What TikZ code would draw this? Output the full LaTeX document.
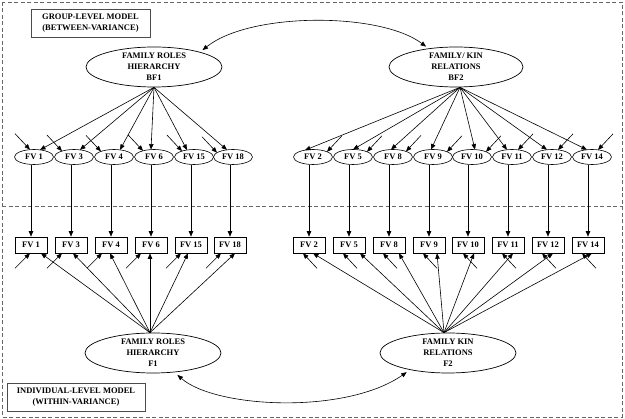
\documentclass[tikz,border=0pt]{standalone}
\usepackage{fontspec}
\setmainfont{Liberation Serif}
\usetikzlibrary{arrows.meta,shapes.geometric,calc}
\begin{document}
\begin{tikzpicture}[x=1pt,y=-1pt,
  font=\fontsize{8.5}{11}\selectfont\bfseries,
  arr/.style={-{Triangle[length=5.5pt,width=4.4pt]}, line width=0.6pt},
  arrtwo/.style={{Triangle[length=5.5pt,width=4.4pt]}-{Triangle[length=5.5pt,width=4.4pt]}, line width=0.6pt},
  latent/.style={ellipse, draw, line width=0.7pt, minimum width=136pt, minimum height=40pt, inner sep=0pt, align=center},
  fvell/.style={ellipse, draw, line width=0.6pt, minimum width=39pt, minimum height=15pt, inner sep=0pt},
  fvbox/.style={rectangle, draw, line width=0.6pt, minimum width=32pt, minimum height=16pt, inner sep=0pt},
  frame/.style={draw=black!60, dash pattern=on 4pt off 2.5pt, line width=0.9pt},
  lbl/.style={rectangle, draw=black!70, line width=0.7pt, align=center, inner sep=0pt}]
\useasboundingbox (0,0) rectangle (625,419);
\draw[frame] (2,2) rectangle (622,417);
\draw[frame] (2,206) -- (622,206);

\node[lbl, minimum width=119pt, minimum height=28pt] (glabel) at (90.5,23) {GROUP-LEVEL MODEL\\(BETWEEN-VARIANCE)};
\node[lbl, minimum width=138pt, minimum height=28pt] (ilabel) at (76,397) {INDIVIDUAL-LEVEL MODEL\\(WITHIN-VARIANCE)};

\node[latent] (bf1) at (154,67) {FAMILY ROLES\\HIERARCHY\\BF1};
\node[latent, minimum width=134pt] (bf2) at (456,67) {FAMILY/ KIN\\RELATIONS\\BF2};
\node[latent] (f1) at (153,353) {FAMILY ROLES\\HIERARCHY\\F1};
\node[latent] (f2) at (448,353) {FAMILY KIN\\RELATIONS\\F2};

% left group
\foreach \n/\bx/\lo/\eo/\blo/\beo in {1/31/6/-4/10/-1, 3/71/6/-12/2/-9, 4/111/6/-13/-1/-9, 6/151/-3/-11/-1/-10, 15/191/-7/-12/-3/-10, 18/230/-6/-16/5/-9} {
  \node[fvell] (t\n) at (\bx+3,157) {FV \n};
  \node[fvbox] (b\n) at (\bx,245) {FV \n};
  \draw[arr] (t\n.south -| b\n) -- (b\n.north);
  \pgfmathsetmacro\dyl{7.5*sqrt(1-(\lo/19.5)^2)}
  \pgfmathsetmacro\dye{7.5*sqrt(1-(\eo/19.5)^2)}
  \draw[arr] (bf1.south) -- ($(t\n.center)+(\lo,-\dyl)$);
  \coordinate (te\n) at ($(t\n.center)+(\eo-15,-\dye-16)$);
  \draw[arr] (te\n) -- ($(t\n.center)+(\eo,-\dye)$);
  \draw[arr] ($(f1.north)+(-3,0)$) -- ($(b\n.south)+(\blo,0)$);
  \coordinate (be\n) at ($(b\n.south)+(\beo-15,15)$);
  \draw[arr] (be\n) -- ($(b\n.south)+(\beo,0)$);
}

% right group
\foreach \n/\bx/\lo/\eo/\blo/\beo in {2/309/-8/14/4/-6, 5/349/0/14/11/-6, 8/389/-2/13/10/-6, 9/429/-2/14/8/-6, 10/468/3/14/6/-5, 11/508/-5/6/5/-6, 12/548/-5/6/5/-6, 14/588/-5/6/4/-6} {
  \node[fvell] (t\n) at (\bx+4,157) {FV \n};
  \node[fvbox] (b\n) at (\bx,245) {FV \n};
  \draw[arr] (t\n.south -| b\n) -- (b\n.north);
  \pgfmathsetmacro\dyl{7.5*sqrt(1-(\lo/19.5)^2)}
  \pgfmathsetmacro\dye{7.5*sqrt(1-(\eo/19.5)^2)}
  \draw[arr] ($(bf2.south)+(4,0)$) -- ($(t\n.center)+(\lo,-\dyl)$);
  \coordinate (te\n) at ($(t\n.center)+(\eo+15,-\dye-16)$);
  \draw[arr] (te\n) -- ($(t\n.center)+(\eo,-\dye)$);
  \draw[arr] ($(f2.north)+(-4,0)$) -- ($(b\n.south)+(\blo,0)$);
  \coordinate (be\n) at ($(b\n.south)+(\beo+14,15)$);
  \draw[arr] (be\n) -- ($(b\n.south)+(\beo,0)$);
}

% covariances
\draw[arrtwo, shorten <=3pt, shorten >=3pt] (bf1.18) .. controls (250,12) and (380,12) .. (bf2.146);
\draw[arrtwo, shorten <=4pt, shorten >=4pt] (f1.-42) .. controls (215,408) and (345,415) .. (f2.204);
\end{tikzpicture}
\end{document}
